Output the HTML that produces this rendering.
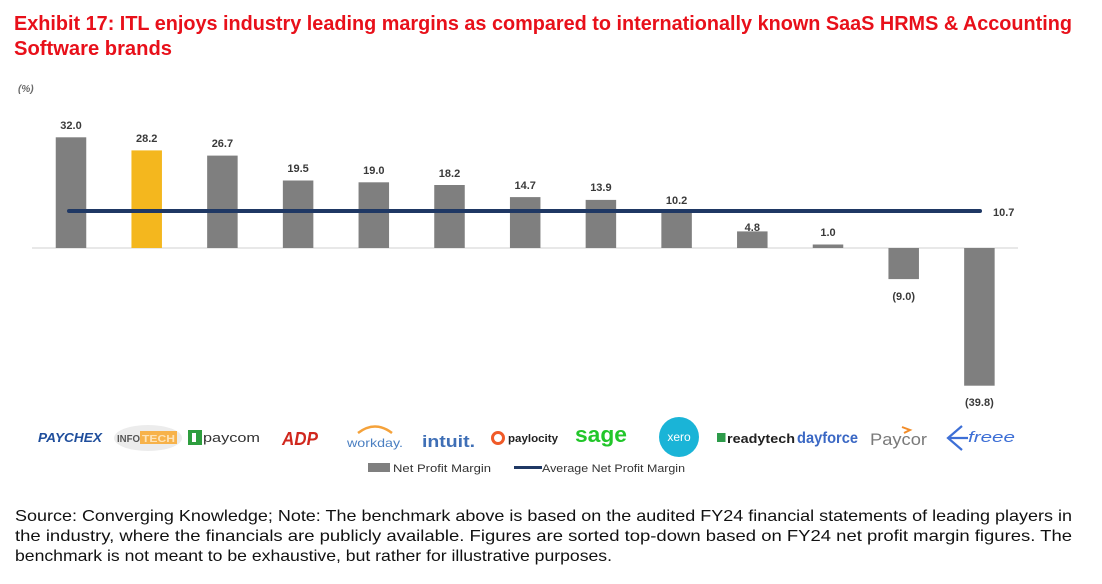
<!DOCTYPE html>
<html><head><meta charset="utf-8"><style>
html,body{margin:0;padding:0;background:#fff;}
svg{display:block;}
text{font-family:"Liberation Sans",sans-serif;}
</style></head><body>
<svg width="1102" height="584" viewBox="0 0 1102 584" xmlns="http://www.w3.org/2000/svg">
<rect width="1102" height="584" fill="#fff"/>
<!-- Title -->
<text x="14" y="30" font-size="20" font-weight="bold" fill="#e8101a" textLength="1058" lengthAdjust="spacingAndGlyphs">Exhibit 17: ITL enjoys industry leading margins as compared to internationally known SaaS HRMS &amp; Accounting</text>
<text x="14" y="55" font-size="20" font-weight="bold" fill="#e8101a" textLength="158" lengthAdjust="spacingAndGlyphs">Software brands</text>
<text x="18" y="92" font-size="10" font-style="italic" font-weight="bold" fill="#6a6a6a">(%)</text>

<!-- baseline -->
<line x1="32" y1="248" x2="1018" y2="248" stroke="#d9d9d9" stroke-width="1.2"/>

<!-- bars -->
<g fill="#7f7f7f">
<rect x="55.75" y="137.3" width="30.5" height="110.7"/>
<rect x="207.15" y="155.6" width="30.5" height="92.4"/>
<rect x="282.85" y="180.5" width="30.5" height="67.5"/>
<rect x="358.55" y="182.3" width="30.5" height="65.7"/>
<rect x="434.25" y="185.0" width="30.5" height="63.0"/>
<rect x="509.95" y="197.1" width="30.5" height="50.9"/>
<rect x="585.65" y="199.9" width="30.5" height="48.1"/>
<rect x="661.35" y="212.7" width="30.5" height="35.3"/>
<rect x="737.05" y="231.4" width="30.5" height="16.6"/>
<rect x="812.75" y="244.5" width="30.5" height="3.5"/>
<rect x="888.45" y="248" width="30.5" height="31.1"/>
<rect x="964.15" y="248" width="30.5" height="137.7"/>
</g>
<rect x="131.45" y="150.4" width="30.5" height="97.6" fill="#f4b71e"/>

<!-- average line -->
<line x1="69" y1="211" x2="980" y2="211" stroke="#1f3864" stroke-width="4" stroke-linecap="round"/>
<text x="993" y="216" font-size="11" font-weight="bold" fill="#3a3a3a">10.7</text>

<!-- labels -->
<g font-size="11" font-weight="bold" fill="#3a3a3a" text-anchor="middle">
<text x="71" y="129">32.0</text>
<text x="146.7" y="142">28.2</text>
<text x="222.4" y="147">26.7</text>
<text x="298.1" y="172">19.5</text>
<text x="373.8" y="174">19.0</text>
<text x="449.5" y="177">18.2</text>
<text x="525.2" y="189">14.7</text>
<text x="600.9" y="191">13.9</text>
<text x="676.6" y="204">10.2</text>
<text x="752.3" y="231">4.8</text>
<text x="828" y="236">1.0</text>
<text x="903.7" y="300">(9.0)</text>
<text x="979.4" y="406">(39.8)</text>
</g>

<!-- logos -->
<text x="38" y="442" font-size="13" font-weight="bold" font-style="italic" fill="#1f4e9c" textLength="64" lengthAdjust="spacingAndGlyphs">PAYCHEX</text>

<ellipse cx="148" cy="438" rx="34" ry="13" fill="#ececec"/>
<text x="117" y="442" font-size="10" font-weight="bold" fill="#555" textLength="23" lengthAdjust="spacingAndGlyphs">INFO</text>
<rect x="140" y="431" width="37" height="13" fill="#f7b24a"/>
<text x="142" y="442" font-size="10" font-weight="bold" fill="#fde3b8" textLength="33" lengthAdjust="spacingAndGlyphs">TECH</text>

<rect x="188" y="430" width="14" height="15" fill="#2e9e3e"/>
<rect x="192" y="433" width="6" height="9" fill="#fff"/>
<rect x="196" y="433" width="3" height="12" fill="#2e9e3e"/>
<text x="203" y="442" font-size="13" fill="#333" textLength="57" lengthAdjust="spacingAndGlyphs">paycom</text>

<text x="282" y="445" font-size="18" font-weight="bold" font-style="italic" fill="#d0271d" textLength="36" lengthAdjust="spacingAndGlyphs">ADP</text>

<path d="M358 433 Q375 420 392 433" fill="none" stroke="#f5a23a" stroke-width="2.5"/>
<text x="347" y="447" font-size="12" fill="#4a7fc1" textLength="56" lengthAdjust="spacingAndGlyphs">workday.</text>

<text x="422" y="447" font-size="17" font-weight="bold" fill="#3f6fb6" textLength="53" lengthAdjust="spacingAndGlyphs">intuit.</text>

<circle cx="498" cy="438" r="5.5" fill="none" stroke="#f05a28" stroke-width="3"/>
<text x="508" y="442" font-size="11" font-weight="bold" fill="#222" textLength="50" lengthAdjust="spacingAndGlyphs">paylocity</text>

<text x="575" y="442" font-size="22" font-weight="bold" fill="#22c62a" textLength="52" lengthAdjust="spacingAndGlyphs">sage</text>

<circle cx="679" cy="437" r="20" fill="#1ab4d7"/>
<text x="679" y="441" font-size="12" fill="#fff" text-anchor="middle">xero</text>

<rect x="717" y="433" width="8.5" height="9" fill="#2d9b4a"/>
<text x="727" y="443" font-size="13" font-weight="bold" fill="#222" textLength="68" lengthAdjust="spacingAndGlyphs">readytech</text>

<text x="797" y="443" font-size="16" font-weight="bold" fill="#3b68c4" textLength="61" lengthAdjust="spacingAndGlyphs">dayforce</text>

<text x="870" y="445" font-size="17" fill="#7a7a7a" textLength="57" lengthAdjust="spacingAndGlyphs">Paycor</text>
<path d="M902 427 L910 430 L904 433" fill="none" stroke="#f28c28" stroke-width="2"/>

<path d="M962 426 L948 438 L962 450 M950 438 L968 438" fill="none" stroke="#3d6fd6" stroke-width="2.2"/>
<text x="968" y="442" font-size="15" font-style="italic" fill="#3d6fd6" font-family="Liberation Serif, serif" textLength="47" lengthAdjust="spacingAndGlyphs">freee</text>

<!-- legend -->
<rect x="368" y="463" width="22" height="9" fill="#7f7f7f"/>
<text x="393" y="472" font-size="11" fill="#333" textLength="98" lengthAdjust="spacingAndGlyphs">Net Profit Margin</text>
<line x1="514" y1="467.5" x2="542" y2="467.5" stroke="#1f3864" stroke-width="3"/>
<text x="542" y="472" font-size="11" fill="#333" textLength="143" lengthAdjust="spacingAndGlyphs">Average Net Profit Margin</text>

<!-- footer -->
<g font-size="16" fill="#111">
<text x="15" y="521" textLength="1057" lengthAdjust="spacingAndGlyphs">Source: Converging Knowledge; Note: The benchmark above is based on the audited FY24 financial statements of leading players in</text>
<text x="15" y="541" textLength="1057" lengthAdjust="spacingAndGlyphs">the industry, where the financials are publicly available. Figures are sorted top-down based on FY24 net profit margin figures. The</text>
<text x="15" y="561" textLength="597" lengthAdjust="spacingAndGlyphs">benchmark is not meant to be exhaustive, but rather for illustrative purposes.</text>
</g>
</svg>
</body></html>
